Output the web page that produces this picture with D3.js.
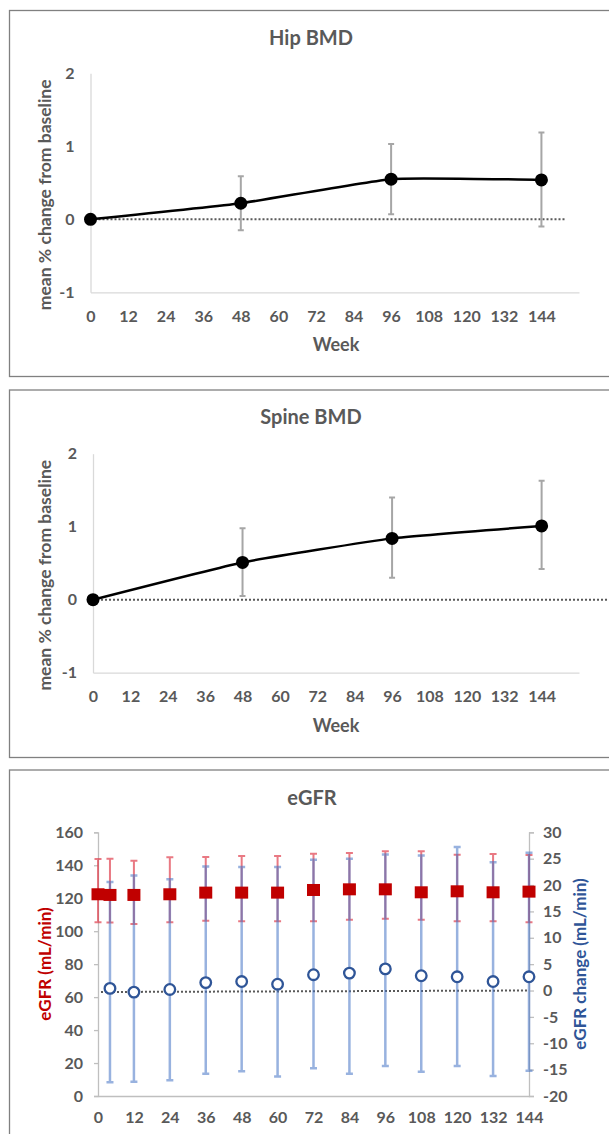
<!DOCTYPE html>
<html>
<head>
<meta charset="utf-8">
<script src="https://cdn.jsdelivr.net/npm/d3@7"></script>
<style>
  body { margin: 0; background: #fff; }
  text { font-family: Lato, "Open Sans", sans-serif; font-weight: bold; fill: #595959; }
</style>
</head>
<body>
<svg id="svg" width="609" height="1134"></svg>
<script>
// week ticks shared by all three panels
const weekTicks = [0, 12, 24, 36, 48, 60, 72, 84, 96, 108, 120, 132, 144];
const bmdTicks = [-1, 0, 1, 2];

// BMD visits
const bmdWeeks = [0, 48, 96, 144];
const hipMean = [0, 0.22, 0.55, 0.54];
const hipUpper = [0, 0.59, 1.03, 1.19];
const hipLower = [0, -0.15, 0.07, -0.10];
const spineMean = [0, 0.51, 0.84, 1.01];
const spineUpper = [0, 0.98, 1.40, 1.63];
const spineLower = [0, 0.05, 0.30, 0.42];

// eGFR (left axis)
const egfrWeeks = [0, 4, 12, 24, 36, 48, 60, 72, 84, 96, 108, 120, 132, 144];
const egfrMean = [122.4, 122, 122, 122.4, 123.4, 123.4, 123.4, 125, 125.4, 125.4, 123.6, 124.2, 123.6, 124];
const egfrUpper = [143.8, 144, 142.8, 144.8, 145, 145.6, 145.6, 147, 147.5, 148.5, 148.5, 146.4, 146.8, 146.2];
const egfrLower = [105.4, 105.2, 104.4, 105.4, 106.4, 106, 106, 106, 107, 107.6, 107, 106, 106, 105.4];
const egfrTicks = [0, 20, 40, 60, 80, 100, 120, 140, 160];

// eGFR change (right axis)
const changeWeeks = [4, 12, 24, 36, 48, 60, 72, 84, 96, 108, 120, 132, 144];
const changeMean = [0.4, -0.3, 0.2, 1.5, 1.7, 1.2, 3.0, 3.3, 4.1, 2.8, 2.6, 1.7, 2.6];
const changeUpper = [20.6, 21.8, 21.1, 23.5, 23.4, 23.4, 24.8, 25.0, 25.8, 25.6, 27.2, 24.3, 26.1];
const changeLower = [-17.4, -17.3, -17.0, -15.8, -15.3, -16.3, -14.75, -15.8, -14.3, -15.4, -14.3, -16.2, -15.2];
const changeTicks = [-20, -15, -10, -5, 0, 5, 10, 15, 20, 25, 30];

var svg = d3.select("#svg");
var plain = d => String(d); //keep the ascii hyphen like the original

var errPath = function(x, y, w, up, lo, cap) { //vertical bar with caps
  return "M" + (x(w) - cap) + "," + y(up) + "H" + (x(w) + cap) +
         "M" + x(w) + "," + y(up) + "V" + y(lo) +
         "M" + (x(w) - cap) + "," + y(lo) + "H" + (x(w) + cap);
}

var styleAxis = function(g, color) {
  g.select(".domain").attr("stroke", color).attr("stroke-width", 1.3);
  g.selectAll(".tick line").attr("stroke", color).attr("stroke-width", 1.3);
  g.selectAll(".tick text").attr("font-size", 16).attr("fill", "#595959")
    .style("font-family", "Lato, sans-serif").style("font-weight", "bold");
}

var drawBmd = function(c) {
  var g = svg.append("g");
  g.append("rect") //panel frame
      .attr("x", 9.5).attr("y", c.top).attr("width", 640).attr("height", c.height)
      .attr("fill", "none").attr("stroke", "#808080").attr("stroke-width", 1.3);

  var x = d3.scaleLinear().domain([0, 156]).range([c.left, 579]);
  var y = d3.scaleLinear().domain([-1, 2]).range([c.bottom, c.bottom - 219]);

  g.append("text")
      .attr("x", 311).attr("y", c.top + 34)
      .attr("text-anchor", "middle").attr("font-size", 20)
      .text(c.title);

  g.append("g")
      .attr("transform", "translate(" + c.left + ",0)")
      .call(d3.axisLeft(y).tickValues(bmdTicks).tickSize(0).tickPadding(16).tickFormat(plain))
      .call(g => styleAxis(g, "#d9d9d9"));

  g.append("g")
      .attr("transform", "translate(0," + y(-1) + ")")
      .call(d3.axisBottom(x).tickValues(weekTicks).tickSize(0).tickPadding(18))
      .call(g => styleAxis(g, "#d9d9d9"));

  g.append("text")
      .attr("x", 336).attr("y", y(-1) + 59)
      .attr("text-anchor", "middle").attr("font-size", 18)
      .text("Week");

  g.append("text")
      .attr("transform", "translate(51," + (y(0.5) + 12) + ") rotate(-90)")
      .attr("text-anchor", "middle").attr("font-size", 17.5)
      .text("mean % change from baseline");

  g.append("line") //zero reference
      .attr("x1", x(0)).attr("x2", c.zeroEnd)
      .attr("y1", y(0)).attr("y2", y(0))
      .attr("stroke", "#595959").attr("stroke-width", 2).attr("stroke-dasharray", "2,2");

  g.selectAll(".err")
    .data(d3.range(bmdWeeks.length).filter(i => c.upper[i] !== c.lower[i]))
    .join("path")
      .attr("d", i => errPath(x, y, bmdWeeks[i], c.upper[i], c.lower[i], 3))
      .attr("fill", "none").attr("stroke", "#a6a6a6").attr("stroke-width", 2);

  var line = d3.line()
    .x(i => x(bmdWeeks[i]))
    .y(i => y(c.mean[i]))
    .curve(d3.curveCardinal.tension(0.6));

  g.append("path")
      .attr("d", line(d3.range(bmdWeeks.length)))
      .attr("fill", "none").attr("stroke", "#000").attr("stroke-width", 2.5);

  g.selectAll(".dot")
    .data(d3.range(bmdWeeks.length))
    .join("circle")
      .attr("cx", i => x(bmdWeeks[i]))
      .attr("cy", i => y(c.mean[i]))
      .attr("r", 6.5)
      .attr("fill", "#000");
}

drawBmd({title: "Hip BMD", top: 10.5, height: 366, left: 90.5, bottom: 292.3, zeroEnd: 565,
         mean: hipMean, upper: hipUpper, lower: hipLower});
drawBmd({title: "Spine BMD", top: 390, height: 367.5, left: 93, bottom: 672.7, zeroEnd: 620,
         mean: spineMean, upper: spineUpper, lower: spineLower});

// eGFR panel
var eg = svg.append("g");
eg.append("rect")
    .attr("x", 9.5).attr("y", 770).attr("width", 640).attr("height", 400)
    .attr("fill", "none").attr("stroke", "#808080").attr("stroke-width", 1.3);

var ex = d3.scaleLinear().domain([0, 144]).range([98, 529]);
var yL = d3.scaleLinear().domain([0, 160]).range([1096, 832.3]);
var yR = d3.scaleLinear().domain([-20, 30]).range([1096, 832.3]);

eg.append("text")
    .attr("x", 312).attr("y", 805)
    .attr("text-anchor", "middle").attr("font-size", 20)
    .text("eGFR");

eg.append("g")
    .attr("transform", "translate(98,0)")
    .call(d3.axisLeft(yL).tickValues(egfrTicks).tickSize(4).tickPadding(11))
    .call(g => styleAxis(g, "#bfbfbf"));

eg.append("g")
    .attr("transform", "translate(529,0)")
    .call(d3.axisRight(yR).tickValues(changeTicks).tickSize(5).tickPadding(9).tickFormat(plain))
    .call(g => styleAxis(g, "#bfbfbf"));

eg.append("g")
    .attr("transform", "translate(0,1096)")
    .call(d3.axisBottom(ex).tickValues(weekTicks).tickSize(0).tickPadding(16))
    .call(g => styleAxis(g, "#bfbfbf"));

eg.append("text")
    .attr("transform", "translate(51,964) rotate(-90)")
    .attr("text-anchor", "middle").attr("font-size", 17)
    .style("fill", "#c00000")
    .text("eGFR (mL/min)");

eg.append("text")
    .attr("transform", "translate(586,964) rotate(-90)")
    .attr("text-anchor", "middle").attr("font-size", 17)
    .style("fill", "#2f5597")
    .text("eGFR change (mL/min)");

eg.append("line") //zero change reference
    .attr("x1", ex(1)).attr("x2", ex(144))
    .attr("y1", yR(0) + 1.5).attr("y2", yR(0))
    .attr("stroke", "#595959").attr("stroke-width", 2).attr("stroke-dasharray", "2,2");

eg.selectAll(".rerr")
  .data(d3.range(egfrWeeks.length))
  .join("path")
    .attr("d", i => errPath(ex, yL, egfrWeeks[i], egfrUpper[i], egfrLower[i], 3.5))
    .attr("fill", "none").attr("stroke", "#e0404f").attr("stroke-opacity", 0.7).attr("stroke-width", 2);

eg.selectAll(".berr")
  .data(d3.range(changeWeeks.length))
  .join("path")
    .attr("d", i => errPath(ex, yR, changeWeeks[i], changeUpper[i], changeLower[i], 3.5))
    .attr("fill", "none").attr("stroke", "#4472c4").attr("stroke-opacity", 0.55).attr("stroke-width", 2.5);

eg.selectAll(".sq")
  .data(d3.range(egfrWeeks.length))
  .join("rect")
    .attr("x", i => ex(egfrWeeks[i]) - 6.5)
    .attr("y", i => yL(egfrMean[i]) - 6)
    .attr("width", 13).attr("height", 12)
    .attr("fill", "#c00000");

eg.selectAll(".ring")
  .data(d3.range(changeWeeks.length))
  .join("circle")
    .attr("cx", i => ex(changeWeeks[i]))
    .attr("cy", i => yR(changeMean[i]))
    .attr("r", 5.3)
    .attr("fill", "#fff").attr("stroke", "#2f5597").attr("stroke-width", 2.3);
</script>
</body>
</html>
